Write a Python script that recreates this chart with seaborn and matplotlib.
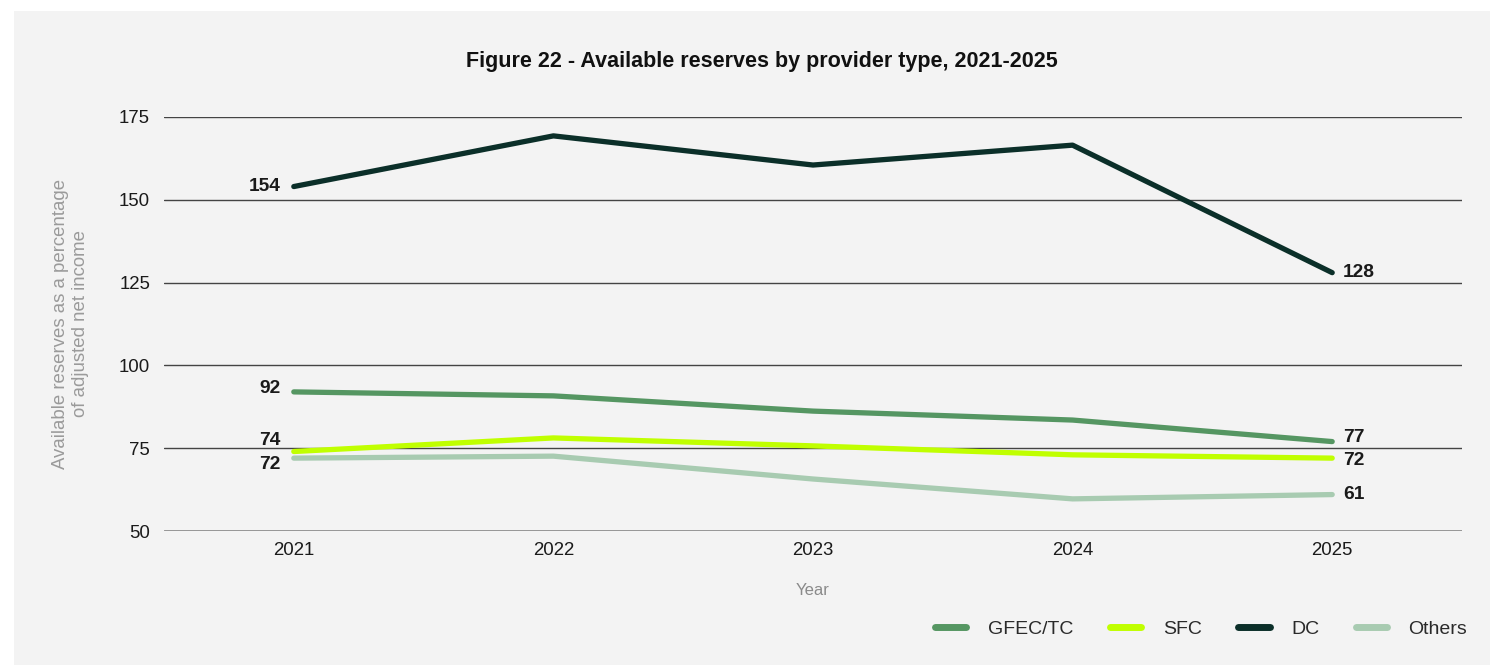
import matplotlib
matplotlib.use("Agg")
import matplotlib.pyplot as plt
from matplotlib.patches import Rectangle
from matplotlib.lines import Line2D
import seaborn as sns
import pandas as pd

# Data
years = ["2021", "2022", "2023", "2024", "2025"]
gfec_tc = [92, 90.8, 86.2, 83.5, 77]
sfc = [74, 78.1, 75.7, 73, 72]
dc = [154, 169.3, 160.5, 166.5, 128]
others = [72, 72.6, 65.7, 59.7, 61]
series_names = ["GFEC/TC", "SFC", "DC", "Others"]
y_ticks = [50, 75, 100, 125, 150, 175]

colors = {"GFEC/TC": "#559662", "SFC": "#c0ff00", "DC": "#0b2f29", "Others": "#a8cbb1"}

frames = []
for name, vals in zip(series_names, [gfec_tc, sfc, dc, others]):
    frames.append(pd.DataFrame({"Year": years, "value": vals, "provider": name}))
df = pd.concat(frames, ignore_index=True)

sns.set_theme(style="white")
plt.rcParams["font.family"] = ["Liberation Sans", "DejaVu Sans"]

W, H = 1490, 665
fig = plt.figure(figsize=(W / 100, H / 100), dpi=100, facecolor="white")
fig.patches.append(Rectangle((14 / W, 0), 1 - 14 / W, 1 - 11 / H, transform=fig.transFigure,
                             facecolor="#f3f3f3", edgecolor="none", zorder=-10))

ax = fig.add_axes([164 / W, 1 - 531 / H, (1462 - 164) / W, (531 - 117) / H])
ax.set_facecolor("none")

# Draw the DC line first so the lower series sit above it where needed
draw_order = ["DC", "Others", "SFC", "GFEC/TC"]
for name in draw_order:
    sub = df[df["provider"] == name]
    sns.lineplot(data=sub, x="Year", y="value", color=colors[name], linewidth=3.8,
                 ax=ax, legend=False, solid_capstyle="round", sort=False)

ax.set_xlim(-0.5, 4.5)
ax.set_ylim(50, 175)
ax.set_yticks(y_ticks)
ax.set_yticklabels([str(t) for t in y_ticks])
for t in y_ticks:
    if t == 50:
        ax.axhline(t, color="#7a7a7a", linewidth=1.8, zorder=0)
    else:
        ax.axhline(t, color="#444444", linewidth=1.0, zorder=0)
for s in ax.spines.values():
    s.set_visible(False)
ax.tick_params(axis="y", length=0, pad=10, labelsize=13.4, labelcolor="#1a1a1a")
ax.tick_params(axis="x", length=0, pad=8, labelsize=13.4, labelcolor="#1a1a1a")

ax.set_xlabel("Year", color="#8a8a8a", fontsize=12, labelpad=17)
ax.set_ylabel("Available reserves as a percentage\nof adjusted net income",
              color="#9a9a9a", fontsize=13.4, linespacing=1.25)
ax.yaxis.set_label_coords(-(164 - 89) / (1462 - 164), 0.5)

# Value labels at the first and last year
start_offsets = {"GFEC/TC": 3, "SFC": 11, "DC": 0, "Others": -6}
end_offsets = {"GFEC/TC": 4, "SFC": -2, "DC": 0, "Others": 0}
series_vals = dict(zip(series_names, [gfec_tc, sfc, dc, others]))
for name in series_names:
    vals = series_vals[name]
    ax.annotate(f"{vals[0]:.0f}", (0, vals[0]), xytext=(-13, start_offsets[name]),
                textcoords="offset pixels", ha="right", va="center",
                fontsize=13.8, fontweight="bold", color="#1a1a1a")
    ax.annotate(f"{vals[-1]:.0f}", (4, vals[-1]), xytext=(11, end_offsets[name]),
                textcoords="offset pixels", ha="left", va="center",
                fontsize=13.8, fontweight="bold", color="#1a1a1a")

fig.text(762 / W, 1 - 62 / H, "Figure 22 - Available reserves by provider type, 2021-2025",
         ha="center", va="center", fontsize=15.5, fontweight="bold", color="#111111")

handles = [Line2D([0], [0], color=colors[n], linewidth=5, solid_capstyle="round")
           for n in series_names]
fig.legend(handles, series_names, loc="center right", bbox_to_anchor=(1477 / W, 1 - 629 / H),
           ncol=4, frameon=False, fontsize=14, handlelength=1.6, handletextpad=1.1,
           columnspacing=1.9, borderpad=0, labelcolor="#2a2a2a")

fig.savefig("out.png", dpi=100, facecolor=fig.get_facecolor())
